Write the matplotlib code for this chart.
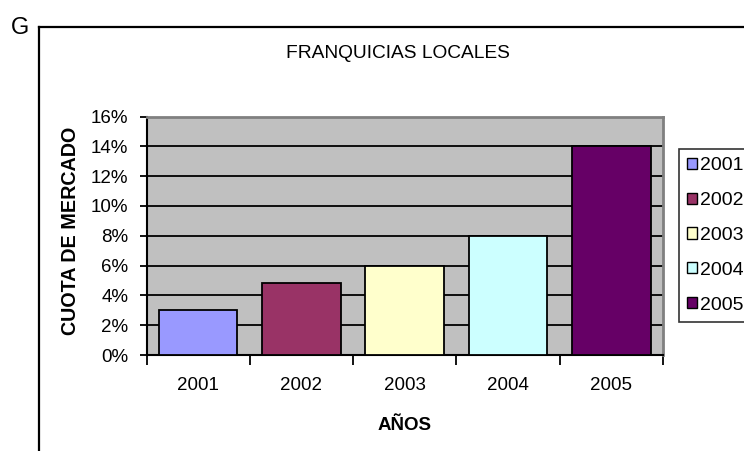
import matplotlib
matplotlib.use('Agg')
import matplotlib.pyplot as plt
from matplotlib.patches import Patch
from matplotlib.lines import Line2D
from matplotlib.ticker import PercentFormatter

plt.rcParams['font.family'] = ['Liberation Sans', 'DejaVu Sans']

years = ['2001', '2002', '2003', '2004', '2005']
cuota = [0.03, 0.048, 0.06, 0.08, 0.14]
colores = ['#9999FF', '#993366', '#FFFFCC', '#CCFFFF', '#660066']

W, H = 744, 451
fig = plt.figure(figsize=(W / 100, H / 100), dpi=100)
ax = fig.add_axes([146.5 / W, 1 - 355 / H, (663 - 146.5) / W, (355 - 116.5) / H])
ax.set_facecolor('#C0C0C0')

x = list(range(len(years)))
ax.bar(x, cuota, width=0.76, color=colores, edgecolor='black', linewidth=1.3, zorder=3)

ax.set_xlim(-0.5, 4.5)
ax.set_ylim(0, 0.16)
ax.set_yticks([i * 0.02 for i in range(9)])
ax.yaxis.set_major_formatter(PercentFormatter(1.0, decimals=0))
ax.grid(axis='y', color='black', linewidth=1.3, zorder=1)
ax.set_axisbelow(True)

ax.set_xticks(x)
ax.set_xticklabels(years)
ax.set_xticks([i - 0.5 for i in range(6)], minor=True)
ax.tick_params(axis='x', which='major', length=0, pad=16, labelsize=13.5)
ax.tick_params(axis='x', which='minor', length=7, width=1.3, direction='out')
ax.tick_params(axis='y', length=5, width=1.3, direction='out', pad=8, labelsize=13.5)

for s in ['left', 'bottom']:
    ax.spines[s].set_color('black')
    ax.spines[s].set_linewidth(1.5)
for s in ['top', 'right']:
    ax.spines[s].set_color('#808080')
    ax.spines[s].set_linewidth(2)

ax.set_ylabel('CUOTA DE MERCADO', fontsize=14.2, fontweight='bold')
ax.yaxis.set_label_coords(-0.148, 0.52)
ax.yaxis.label.set_va('center')
ax.set_xlabel('AÑOS', fontsize=13.5, fontweight='bold')
ax.xaxis.set_label_coords(0.5, (355 - 426) / (355 - 116.5))
ax.xaxis.label.set_va('center')

fig.text(398 / W, 1 - 53 / H, 'FRANQUICIAS LOCALES', ha='center', va='center', fontsize=13.8)
fig.text(20 / W, 1 - 28 / H, 'G', ha='center', va='center', fontsize=17)

# marco exterior
fig.add_artist(Line2D([38.5 / W, 38.5 / W], [0, 1 - 27 / H], color='black', linewidth=1.6))
fig.add_artist(Line2D([38.5 / W, 1.0], [1 - 27 / H, 1 - 27 / H], color='black', linewidth=1.6))

handles = [Patch(facecolor=c, edgecolor='black', linewidth=1) for c in colores]
leg = fig.legend(handles, years, loc='upper left', bbox_to_anchor=(679 / W, 1 - 149 / H),
                 bbox_transform=fig.transFigure, fontsize=14, frameon=True, fancybox=False,
                 edgecolor='black', handlelength=0.5, handleheight=0.5, handletextpad=0.15,
                 labelspacing=0.92, borderpad=0.42, borderaxespad=0)
leg.get_frame().set_linewidth(1.2)

fig.savefig('out.png', dpi=100)
